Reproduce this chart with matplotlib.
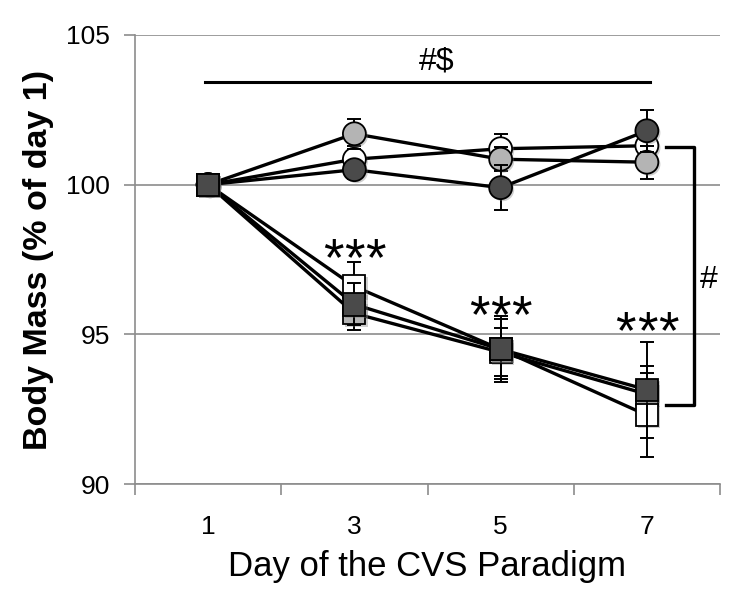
import matplotlib.pyplot as plt
import matplotlib.patheffects as pe
import numpy as np

plt.rcParams['font.family'] = ['Liberation Sans', 'DejaVu Sans']

# data (% of day 1 body mass)
days = ['1', '3', '5', '7']

circ_white = [100, 100.85, 101.2, 101.3]
circ_white_err = [0, 0.45, 0.5, 0.5]
circ_light = [100, 101.7, 100.85, 100.75]
circ_light_err = [0, 0.5, 0.4, 0.55]
circ_dark = [100, 100.5, 99.9, 101.8]
circ_dark_err = [0, 0.3, 0.75, 0.7]

sq_light = [100, 95.7, 94.4, 93.0]
sq_light_err = [0, 0.55, 0.8, 0.95]
sq_white = [100, 96.6, 94.5, 92.3]
sq_white_err = [0, 0.8, 1.1, 1.4]
sq_dark = [100, 96.0, 94.5, 93.15]
sq_dark_err = [0, 0.7, 1.0, 1.6]

star_y = [97.83, 95.93, 95.4]
star_labels = ['***', '***', '***']

DARK = '#4a4a4a'
LIGHT = '#b4b4b4'
WHITE = '#ffffff'
GRID = '#8c8c8c'

fig = plt.figure(figsize=(7.5, 6), dpi=100)
ax = fig.add_axes([0.18, 0.1933, 0.78, 0.7484])

x = np.arange(1, len(days) + 1)

series = [
    (circ_white, circ_white_err, 'o', WHITE, 16.5),
    (circ_light, circ_light_err, 'o', LIGHT, 16.5),
    (circ_dark, circ_dark_err, 'o', DARK, 16.5),
    (sq_light, sq_light_err, 's', LIGHT, 16),
    (sq_white, sq_white_err, 's', WHITE, 16),
    (sq_dark, sq_dark_err, 's', DARK, 16),
]

shadow = [pe.SimplePatchShadow(offset=(1.5, -1.5), shadow_rgbFace='#777777', alpha=0.35),
          pe.Normal()]

z = 3
for vals, err, mk, col, ms in series:
    ax.errorbar(x, vals, yerr=err, fmt='none', ecolor='black', elinewidth=1.4,
                capsize=4.7, capthick=1.4, zorder=z)
    ax.plot(x, vals, color='black', lw=2.4, zorder=z + 0.3)
    ax.plot(x, vals, ls='none', marker=mk, ms=ms, mfc=col, mec='black', mew=1.3,
            zorder=z + 0.6, path_effects=shadow)
    z += 1

# significance stars above the CVS groups (star_y = centre of the stars),
# each star placed on its own to get the wide spacing of the original
for xi, yi, s in zip(x[1:], star_y, star_labels):
    n = len(s)
    for k, ch in enumerate(s):
        ax.annotate(ch, (xi, yi), xytext=((k - (n - 1) / 2) * 15.3, -18.2),
                    textcoords='offset points', ha='center', va='baseline',
                    fontsize=38)

# "#$" bar across the top
ax.plot([0.98, 4.02], [103.43, 103.43], color='black', lw=2.2, zorder=2)
ax.text(2.56, 104.1, '#$', ha='center', va='center', fontsize=23)

# bracket between groups at day 7
ax.plot([4.13, 4.32, 4.32, 4.13], [101.27, 101.27, 92.64, 92.64],
        color='black', lw=2.4, clip_on=False)
ax.text(4.42, 96.8, '#', ha='center', va='center', fontsize=23)

ax.set_xlim(0.5, 4.5)
ax.set_ylim(90, 105)
ax.set_yticks([90, 95, 100, 105])
ax.grid(axis='y', color=GRID, lw=1.2)
ax.set_axisbelow(True)

ax.set_xticks(x)
ax.set_xticklabels(days, fontsize=19)
ax.set_xticks(np.arange(0.5, 4.6, 1), minor=True)
ax.tick_params(axis='x', which='major', length=0, pad=22)
ax.tick_params(axis='x', which='minor', length=8, color=GRID, width=1.2)
ax.tick_params(axis='y', length=8, color=GRID, width=1.2, labelsize=19, pad=10)

for side in ['top', 'right']:
    ax.spines[side].set_visible(False)
for side in ['left', 'bottom']:
    ax.spines[side].set_color(GRID)
    ax.spines[side].set_linewidth(1.2)

ax.set_xlabel('Day of the CVS Paradigm', fontsize=25, labelpad=8)
ax.set_ylabel('Body Mass (% of day 1)', fontsize=24.5, fontweight='bold')
ax.yaxis.set_label_coords(-0.138, 0.5)

fig.savefig('out.png', dpi=100)
